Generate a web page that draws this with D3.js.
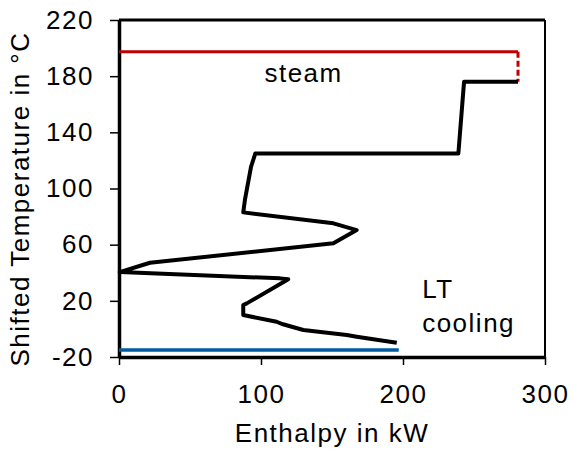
<!DOCTYPE html>
<html>
<head>
<meta charset="utf-8">
<script src="https://cdn.jsdelivr.net/npm/d3@7"></script>
<style>
  body { margin: 0; background: #fff; }
  text { font-family: "Liberation Sans", Arial, sans-serif; fill: #000; letter-spacing: 1.5px; }
</style>
</head>
<body>
<script>
// composite curve (enthalpy kW, shifted temperature °C)
var curveH = [281, 243, 239, 96, 93, 88.7, 87.5, 151, 167.4, 151, 21.8, 0.5, 113.4, 119.2, 90, 87.5, 87.5, 111, 115.5, 129.8, 160.4, 167.4, 195.6];
var curveT = [176, 176, 125, 125, 115.5, 92, 83, 75.2, 70.4, 61, 47.1, 40.5, 36, 35.3, 18.2, 17, 9.9, 5.1, 3.3, -0.8, -4.4, -5.6, -9.8];

// utilities
var steamH = [0, 281], steamT = 197.4;
var steamDropT = [197.4, 176];
var coolH = [0, 197], coolT = -15;

var xTicks = [0, 100, 200, 300];
var yTicks = [-20, 20, 60, 100, 140, 180, 220];

var labels = [
  { text: "steam",   h: 130,   t: 175.8, anchor: "middle" },
  { text: "LT",      h: 213.5, t: 22,    anchor: "start" },
  { text: "cooling", h: 213.5, t: -2.2,  anchor: "start" }
];

var W = 573, H = 454;
var margin = { left: 119, right: 28, top: 20, bottom: 97 };
var fontSize = 26;

var svg = d3.select("body").append("svg")
    .attr("width", W).attr("height", H);

var x = d3.scaleLinear().domain([0, 300]).range([margin.left, W - margin.right]);
var y = d3.scaleLinear().domain([-20, 220]).range([H - margin.bottom, margin.top]);

// top and right frame
svg.append("line")
    .attr("x1", x(0)).attr("x2", x(300)).attr("y1", y(220)).attr("y2", y(220))
    .attr("stroke", "#000").attr("stroke-width", 3);
svg.append("line")
    .attr("x1", x(300)).attr("x2", x(300)).attr("y1", y(220)).attr("y2", y(-20))
    .attr("stroke", "#000").attr("stroke-width", 2);

// axes
var fmt = function (d) { return String(d); };
var xAxis = svg.append("g")
    .attr("transform", "translate(0," + y(-20) + ")")
    .call(d3.axisBottom(x).tickValues(xTicks).tickFormat(fmt).tickSize(8).tickPadding(20).tickSizeOuter(0));
var yAxis = svg.append("g")
    .attr("transform", "translate(" + x(0) + ",0)")
    .call(d3.axisLeft(y).tickValues(yTicks).tickFormat(fmt).tickSize(9).tickPadding(16).tickSizeOuter(0));

[xAxis, yAxis].forEach(function (g) {
  g.select(".domain").attr("stroke", "#000").attr("stroke-width", 3.5);
  g.selectAll(".tick line").attr("stroke", "#000").attr("stroke-width", 1.5);
  g.selectAll(".tick text")
      .style("font-family", '"Liberation Sans", Arial, sans-serif')
      .style("font-size", fontSize + "px").attr("fill", "#000");
});

// steam line and dashed drop
svg.append("line")
    .attr("x1", x(steamH[0])).attr("x2", x(steamH[1]))
    .attr("y1", y(steamT)).attr("y2", y(steamT))
    .attr("stroke", "#c00000").attr("stroke-width", 3);
svg.append("line")
    .attr("x1", x(steamH[1])).attr("x2", x(steamH[1]))
    .attr("y1", y(steamDropT[0])).attr("y2", y(steamDropT[1]))
    .attr("stroke", "#c00000").attr("stroke-width", 3)
    .attr("stroke-dasharray", "6,3");

// cooling line
svg.append("line")
    .attr("x1", x(coolH[0])).attr("x2", x(coolH[1]))
    .attr("y1", y(coolT)).attr("y2", y(coolT))
    .attr("stroke", "#005ba1").attr("stroke-width", 3.5);

// grand composite curve
var pts = curveH.map(function (h, i) { return [h, curveT[i]]; });
svg.append("path")
    .datum(pts)
    .attr("fill", "none")
    .attr("stroke", "#000")
    .attr("stroke-width", 4)
    .attr("stroke-linejoin", "round")
    .attr("d", d3.line().x(function (d) { return x(d[0]); }).y(function (d) { return y(d[1]); }));

// annotations
svg.selectAll("text.lab")
    .data(labels).enter().append("text")
    .attr("class", "lab")
    .attr("x", function (d) { return x(d.h); })
    .attr("y", function (d) { return y(d.t); })
    .attr("text-anchor", function (d) { return d.anchor; })
    .style("font-size", fontSize + "px")
    .text(function (d) { return d.text; });

// axis titles
svg.append("text")
    .attr("x", (x(0) + x(300)) / 2).attr("y", 442)
    .attr("text-anchor", "middle")
    .style("font-size", fontSize + "px")
    .text("Enthalpy in kW");
svg.append("text")
    .attr("transform", "translate(29,199) rotate(-90)")
    .attr("text-anchor", "middle")
    .style("font-size", fontSize + "px")
    .text("Shifted Temperature in °C");
</script>
</body>
</html>
